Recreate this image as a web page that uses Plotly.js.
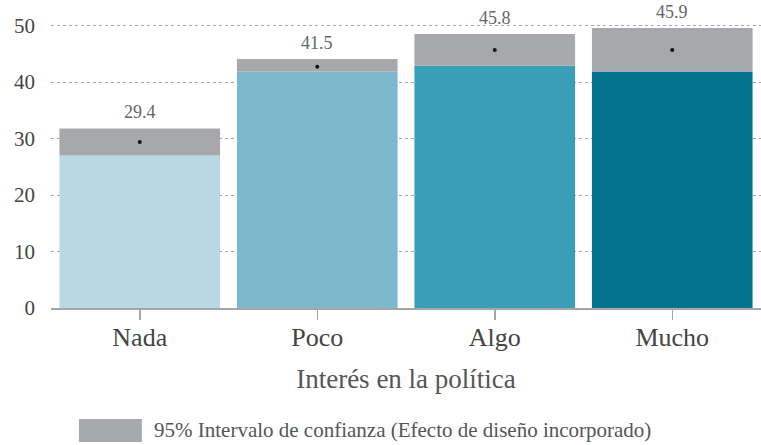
<!DOCTYPE html>
<html>
<head>
<meta charset="utf-8">
<script src="https://cdn.plot.ly/plotly-3.0.1.min.js"></script>
<style>html,body{margin:0;padding:0;background:#fff;}#chart{width:761px;height:445px;}</style>
</head>
<body>
<div id="chart"></div>
<script>
// Data
const categories = ["Nada", "Poco", "Algo", "Mucho"];
const ciLower = [27.0, 41.9, 42.9, 41.9];
const ciUpper = [31.8, 44.1, 48.5, 49.6];
const pointEstimate = [29.4, 42.7, 45.7, 45.7];
const valueLabels = ["29.4", "41.5", "45.8", "45.9"];
const barColors = ["#b8d8e4", "#7bb8cb", "#3a9eb8", "#02728f"];
const yTicks = [0, 10, 20, 30, 40, 50];
const legendText = "95% Intervalo de confianza (Efecto de diseño incorporado)";
const xTitle = "Interés en la política";

const FONT = "Liberation Serif";
const ciHeight = ciUpper.map((u, i) => u - ciLower[i]);

const traces = [
  {
    type: "bar", x: categories, y: ciLower, base: 0,
    marker: { color: barColors, line: { width: 0 } },
    hoverinfo: "skip", showlegend: false
  },
  {
    type: "bar", x: categories, y: ciHeight, base: ciLower,
    marker: { color: "#a7a8ab", line: { width: 0 } },
    hoverinfo: "skip", showlegend: false
  },
  {
    type: "scatter", mode: "markers", x: categories, y: pointEstimate,
    marker: { color: "#111", size: 4 },
    hoverinfo: "skip", showlegend: false, cliponaxis: false
  }
];

const annotations = categories.map((c, i) => ({
  x: c, y: ciUpper[i], xref: "x", yref: "y",
  text: valueLabels[i], showarrow: false,
  yanchor: "middle", yshift: 16,
  font: { family: FONT, size: 18, color: "#666" }
}));
annotations.push({
  xref: "paper", yref: "paper", x: 0.142, y: -0.425,
  xanchor: "left", yanchor: "middle", showarrow: false,
  text: legendText,
  font: { family: FONT, size: 21, color: "#555" }
});

const layout = {
  width: 761, height: 445,
  margin: { l: 51, r: 0, t: 20, b: 137 },
  paper_bgcolor: "#fff", plot_bgcolor: "#fff",
  barmode: "overlay", bargap: 0.095,
  showlegend: false,
  font: { family: FONT, color: "#555" },
  xaxis: {
    type: "category", range: [-0.5, 3.5],
    showline: true, linecolor: "#a3a5a8", linewidth: 2,
    ticks: "outside", ticklen: 10, tickwidth: 1.5, tickcolor: "#a3a5a8",
    ticklabelstandoff: -5,
    tickfont: { family: FONT, size: 26, color: "#444" },
    showgrid: false, zeroline: false,
    title: { text: xTitle, font: { family: FONT, size: 27, color: "#555" }, standoff: 18 }
  },
  yaxis: {
    range: [0, 51], tickvals: yTicks, ticktext: yTicks.map(String),
    showgrid: true, gridcolor: "#a5a5a5", gridwidth: 1, griddash: "dot",
    zeroline: false, showline: false, ticks: "",
    ticklabelstandoff: 15,
    tickfont: { family: FONT, size: 21, color: "#444" }
  },
  shapes: [{
    type: "rect", xref: "paper", yref: "paper",
    x0: 0.0394, x1: 0.128, y0: -0.465, y1: -0.385,
    fillcolor: "#a7a8ab", line: { width: 0 }
  }],
  annotations: annotations
};

Plotly.newPlot("chart", traces, layout, { displayModeBar: false, staticPlot: true });
</script>
</body>
</html>
